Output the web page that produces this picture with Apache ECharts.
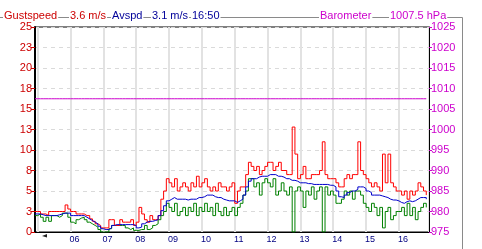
<!DOCTYPE html>
<html><head><meta charset="utf-8">
<script src="https://cdn.jsdelivr.net/npm/echarts@6/dist/echarts.min.js"></script>
<style>html,body{margin:0;padding:0;background:#fff}#c{width:482px;height:249px}</style>
</head><body><div id="c"></div>
<script>
// sample times: every 5 minutes starting 04:55, last sample 16:50
const startHour = 4, startMinute = 55, stepMinutes = 5;
const axisStart = [4, 55], axisEnd = [16, 55];
const hourLabels = ['06','07','08','09','10','11','12','13','14','15','16'];
const leftTicks = [0, 2.5, 5, 7.5, 10, 12.5, 15, 17.5, 20, 22.5, 25];
const rightTicks = [975, 980, 985, 990, 995, 1000, 1005, 1010, 1015, 1020, 1025];

const gustspeed = [
 2.5,2.5,2.2,2.2,2.0,2.5,2.5,2.5,2.5,2.5,2.5,3.3,2.8,
 2.5,2.5,2.2,2.2,2.2,2.0,2.0,1.6,1.3,1.0,0.8,0.5,
 0.5,0.5,1.5,1.5,0.8,0.8,1.5,1.2,1.2,1.2,1.5,0.8,
 1.2,3.0,2.2,1.5,1.2,2.0,1.5,1.5,2.0,4.0,5.0,6.5,
 6.0,5.5,6.5,5.0,5.5,6.0,5.5,5.0,6.0,5.5,6.8,5.5,
 6.0,6.5,5.5,5.0,5.5,5.0,6.0,5.5,5.5,5.0,5.5,6.0,
 3.5,5.0,5.5,5.5,7.0,8.5,8.0,7.5,8.0,7.0,7.5,8.0,
 8.5,8.5,7.5,8.0,8.5,7.5,7.5,7.0,7.0,12.8,9.5,6.5,
 7.0,8.0,6.5,6.5,7.0,7.0,7.0,7.5,11.0,7.0,6.5,6.5,
 6.5,6.0,5.5,5.5,6.5,7.0,6.5,7.0,7.0,11.0,7.5,7.0,
 6.5,6.0,5.5,6.0,5.5,5.0,9.5,6.0,9.5,6.0,5.5,5.0,
 5.0,4.5,5.0,4.0,5.0,4.5,5.0,6.0,5.5,5.0,4.5
];
const avspd = [
 2.2,2.2,2.1,2.0,2.0,2.0,2.0,2.0,2.1,2.2,2.3,2.3,2.3,
 2.0,2.0,2.0,2.0,2.0,1.8,1.6,1.4,1.2,1.0,0.7,0.4,
 0.3,0.3,0.5,0.8,0.9,0.9,0.9,0.9,0.9,0.9,0.9,0.8,
 0.5,0.6,1.0,1.2,1.3,1.3,1.4,1.5,2.0,2.6,3.2,3.8,
 4.0,4.2,4.0,4.0,4.0,4.0,3.9,4.0,4.0,4.0,4.2,4.2,
 4.3,4.5,4.5,4.5,4.3,4.2,4.2,4.0,3.9,3.8,3.8,3.8,
 3.6,3.8,4.0,4.5,5.5,6.2,6.5,6.5,6.7,6.8,6.8,6.8,
 7.0,7.0,7.0,6.8,6.8,6.7,6.5,6.5,6.3,6.3,6.2,6.0,
 6.0,6.0,5.9,5.9,5.8,5.8,5.8,5.8,5.8,5.8,5.7,5.7,
 5.5,5.0,4.3,4.2,4.5,4.8,5.0,5.0,5.2,5.5,5.5,5.3,
 5.0,4.8,4.5,4.5,4.5,4.4,4.3,4.2,4.0,3.9,3.9,3.8,
 3.6,3.5,3.7,3.8,3.7,3.8,4.0,4.2,4.2,4.2,4.0
];
const windspeed = [
 2.0,2.2,1.8,1.3,1.8,1.3,2.0,2.0,1.8,2.0,2.3,2.3,1.8,
 1.2,1.0,1.5,1.7,1.8,1.5,1.2,1.0,0.8,0.6,0.3,0.0,
 0.0,0.0,0.4,0.8,0.8,0.8,0.8,0.8,0.5,0.3,0.5,0.2,
 0.2,0.3,0.3,0.8,0.3,0.5,0.8,1.0,1.5,2.0,2.5,3.5,
 3.0,2.5,3.5,2.0,2.5,3.0,2.0,3.0,2.5,3.5,2.0,3.0,
 2.5,3.5,2.5,3.0,2.0,3.5,2.5,2.0,3.0,2.0,2.5,3.0,
 2.0,3.0,3.5,4.5,5.0,6.5,6.5,5.5,6.0,4.5,6.0,6.5,
 6.0,5.5,6.5,4.5,5.0,6.0,5.0,4.5,5.5,0.0,5.0,5.5,
 5.0,3.0,5.0,4.5,5.5,4.0,5.0,5.5,0.0,5.5,4.5,5.0,
 4.5,3.5,3.5,4.0,5.0,4.5,5.0,4.0,5.0,5.0,4.5,3.5,
 3.0,2.5,3.5,3.0,2.0,3.0,0.5,2.5,3.0,1.5,2.0,2.5,
 2.5,3.0,2.0,3.5,2.0,3.0,1.5,2.5,3.0,3.5,3.0
];
const barometer = gustspeed.map(() => 1007.5);

const legendItems = [
  {text:'Gustspeed', color:'#cc0000'},
  {text:'3.6 m/s', color:'#cc0000'},
  {text:'Avspd', color:'#000099'},
  {text:'3.1 m/s', color:'#000099'},
  {text:'16:50', color:'#000099'},
  {text:'Barometer', color:'#cc00cc'},
  {text:'1007.5 hPa', color:'#cc00cc'}
];

const base = new Date(2024, 0, 1, startHour, startMinute).getTime();
const t = i => base + i * stepMinutes * 60000;
const pair = arr => arr.map((v, i) => [t(i), v]);

const chart = echarts.init(document.getElementById('c'), null, {renderer:'canvas'});
const legendX = [3, 69, 111, 151, 191, 319, 389];
const graphics = [
  {type:'polyline', shape:{points:[[0,17.5],[462.5,17.5],[462.5,249]]}, style:{stroke:'#8a8a8a', lineWidth:1, fill:null}, z:1},
  {type:'polygon', shape:{points:[[42,236],[47,234],[47,237.5]]}, style:{fill:'#222'}, z:5}
];
legendItems.forEach((it, k) => graphics.push({
  type:'text', left: legendX[k], top: 10, z: 3,
  style:{text: it.text, fill: it.color, font:'11px "Liberation Sans", Arial, sans-serif', backgroundColor:'#fff', padding:[0,1,0,1]}
}));

chart.setOption({
  animation:false,
  backgroundColor:'#fff',
  graphic: graphics,
  grid:{left:35, right:53, top:27, bottom:17, show:true, borderColor:'#000', borderWidth:1, backgroundColor:'transparent'},
  xAxis:{
    type:'time',
    min: new Date(2024,0,1,axisStart[0],axisStart[1]).getTime(),
    max: new Date(2024,0,1,axisEnd[0],axisEnd[1]).getTime(),
    minInterval:3600000, maxInterval:3600000,
    axisLine:{show:true, lineStyle:{color:'#000', width:1}},
    axisTick:{show:false},
    splitLine:{show:true, lineStyle:{color:'#e2e2e2', width:2}},
    axisLabel:{
      color:'#000080', fontSize:9, fontFamily:'"Liberation Sans", Arial, sans-serif', margin:3,
      padding:[0,0,0,8], showMinLabel:false, showMaxLabel:false, hideOverlap:false,
      formatter: v => { const h = String(new Date(v).getHours()).padStart(2,'0'); return hourLabels.includes(h) ? h : ''; }
    }
  },
  yAxis:[
    {type:'value', min:leftTicks[0], max:leftTicks[leftTicks.length-1], interval:leftTicks[1]-leftTicks[0],
     axisLine:{show:true, lineStyle:{color:'#000', width:2}},
     axisTick:{show:true, length:4, lineStyle:{color:'#cc0000'}},
     splitLine:{show:true, lineStyle:{color:'#dadada', type:[4,4], width:1}},
     axisLabel:{color:'#cc0000', fontSize:11, fontFamily:'"Liberation Sans", Arial, sans-serif', margin:3, formatter: v => String(Math.round(v))}},
    {type:'value', min:rightTicks[0], max:rightTicks[rightTicks.length-1], interval:rightTicks[1]-rightTicks[0], position:'right',
     axisLine:{show:true, lineStyle:{color:'#000', width:1}},
     axisTick:{show:true, length:3, lineStyle:{color:'#cc00cc'}},
     splitLine:{show:false},
     axisLabel:{color:'#cc00cc', fontSize:11, fontFamily:'"Liberation Sans", Arial, sans-serif', margin:2, formatter: v => String(v)}}
  ],
  series:[
    {name:'Barometer', type:'line', yAxisIndex:1, data:pair(barometer), showSymbol:false, symbol:'none', lineStyle:{color:'#cc00cc', width:1}},
    {name:'Windspeed', type:'line', step:'end', data:pair(windspeed), symbol:'none', lineStyle:{color:'#008000', width:1}},
    {name:'Gustspeed', type:'line', step:'end', data:pair(gustspeed), symbol:'none', lineStyle:{color:'#ff0000', width:1}},
    {name:'Avspd', type:'line', step:'end', data:pair(avspd), symbol:'none', lineStyle:{color:'#0000cc', width:1}}
  ]
});
</script></body></html>
